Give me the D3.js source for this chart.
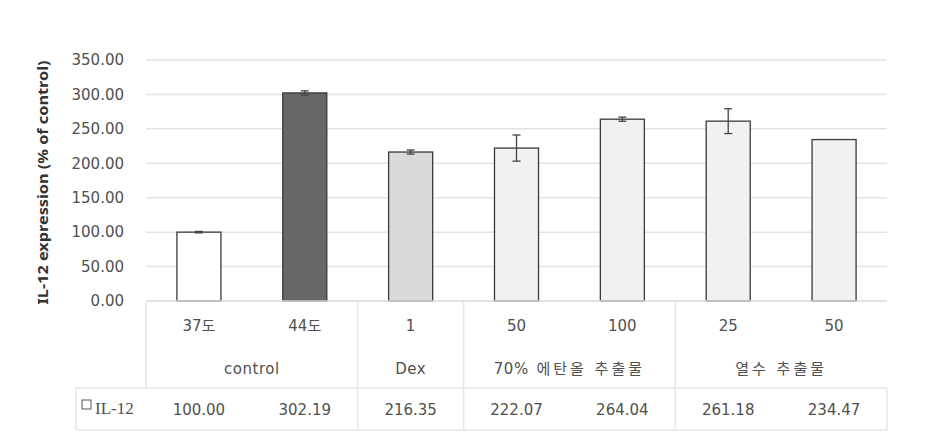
<!DOCTYPE html>
<html>
<head>
<meta charset="utf-8">
<script src="https://cdn.jsdelivr.net/npm/d3@7"></script>
<style>
  body { margin: 0; background: #fff; }
  svg { display: block; font-family: "DejaVu Sans", "Noto Sans CJK KR", sans-serif; }
</style>
</head>
<body>
<svg id="chart" width="926" height="447"></svg>
<script>
// data
const categories = ["37도", "44도", "1", "50", "100", "25", "50"];
const groups = [
    { name: "control", from: 0, to: 1 },
    { name: "Dex", from: 2, to: 2 },
    { name: "70% 에탄올 추출물", from: 3, to: 4 },
    { name: "열수 추출물", from: 5, to: 6 }
];
const values = [100.00, 302.19, 216.35, 222.07, 264.04, 261.18, 234.47];
const errors = [1, 3, 3, 19, 3, 18, 0];
const fills = ["#ffffff", "#676767", "#dadada", "#f1f1f1", "#f1f1f1", "#f1f1f1", "#f1f1f1"];
const yTicks = [0, 50, 100, 150, 200, 250, 300, 350];
const seriesName = "IL-12";

const svg = d3.select("#chart");

const plot = { left: 146, right: 887, top: 60, bottom: 301 };
const textColor = "#505050";
// split a label in runs of hangul / other, so only hangul gets extra spacing
const runs = s => s.match(/[\uac00-\ud7a3 ]+|[^\uac00-\ud7a3 ]+/g);
const isHangul = s => /[\uac00-\ud7a3]/.test(s);

const x = d3.scaleBand()
    .domain(d3.range(categories.length))
    .range([plot.left, plot.right])
    .paddingInner(0.584)
    .paddingOuter(0.292);

const y = d3.scaleLinear()
    .domain([0, 350])
    .range([plot.bottom, plot.top]);

const step = x.step();
const colLeft = i => plot.left + i * step;

// gridlines
svg.append("g")
    .selectAll("line")
    .data(yTicks.filter(t => t > 0))
    .enter()
    .append("line")
    .attr("x1", plot.left)
    .attr("x2", plot.right)
    .attr("y1", d => y(d))
    .attr("y2", d => y(d))
    .style("stroke", "#e3e3e3")
    .style("stroke-width", 1.5);

// y axis labels
const yAxis = d3.axisLeft(y)
    .tickValues(yTicks)
    .tickSize(0)
    .tickPadding(0)
    .tickFormat(d3.format(".2f"));

const gy = svg.append("g")
    .attr("transform", "translate(124,0)")
    .call(yAxis);
gy.select(".domain").remove();
gy.selectAll("text")
    .style("font-size", "15px")
    .style("fill", textColor)
    .style("font-family", "'DejaVu Sans', sans-serif");

// y axis title
svg.append("text")
    .attr("transform", `translate(43,${(plot.top + plot.bottom) / 2 + 2}) rotate(-90)`)
    .attr("text-anchor", "middle")
    .attr("dy", "0.35em")
    .attr("textLength", 244)
    .attr("lengthAdjust", "spacingAndGlyphs")
    .style("font-size", "15px")
    .style("font-weight", "bold")
    .style("fill", "#333")
    .style("font-family", "'Noto Sans', sans-serif")
    .text("IL-12 expression (% of control)");

// bars
svg.append("g")
    .selectAll("rect")
    .data(values)
    .enter()
    .append("rect")
    .attr("x", (d, i) => x(i))
    .attr("y", d => y(d))
    .attr("width", x.bandwidth())
    .attr("height", d => y(0) - y(d))
    .style("fill", (d, i) => fills[i])
    .style("stroke", "#3a3a3a")
    .style("stroke-width", 1.3);

// error bars
const eb = svg.append("g")
    .selectAll("g")
    .data(values.map((v, i) => ({ v: v, e: errors[i], i: i })).filter(d => d.e > 0))
    .enter()
    .append("g")
    .style("stroke", "#444")
    .style("stroke-width", 1.3);

eb.append("line")
    .attr("x1", d => x(d.i) + x.bandwidth() / 2)
    .attr("x2", d => x(d.i) + x.bandwidth() / 2)
    .attr("y1", d => y(d.v + d.e))
    .attr("y2", d => y(d.v - d.e));

[1, -1].forEach(s => {
    eb.append("line")
        .attr("x1", d => x(d.i) + x.bandwidth() / 2 - 4)
        .attr("x2", d => x(d.i) + x.bandwidth() / 2 + 4)
        .attr("y1", d => y(d.v + s * d.e))
        .attr("y2", d => y(d.v + s * d.e));
});

// baseline
svg.append("line")
    .attr("x1", plot.left)
    .attr("x2", plot.right)
    .attr("y1", y(0))
    .attr("y2", y(0))
    .style("stroke", "#d9d9d9")
    .style("stroke-width", 1.5);

// data table lines
const table = svg.append("g").style("stroke", "#e6e6e6").style("stroke-width", 1.5);
table.append("line")
    .attr("x1", plot.left).attr("x2", plot.left)
    .attr("y1", plot.bottom).attr("y2", 388);
table.selectAll(".sep")
    .data(groups.slice(1))
    .enter()
    .append("line")
    .attr("class", "sep")
    .attr("x1", d => colLeft(d.from))
    .attr("x2", d => colLeft(d.from))
    .attr("y1", plot.bottom)
    .attr("y2", 430);
table.append("line")
    .attr("x1", 76).attr("x2", plot.right)
    .attr("y1", 388).attr("y2", 388);
table.append("line")
    .attr("x1", 76).attr("x2", plot.right)
    .attr("y1", 430).attr("y2", 430);
table.append("line")
    .attr("x1", 76).attr("x2", 76)
    .attr("y1", 388).attr("y2", 430);
table.append("line")
    .attr("x1", plot.right).attr("x2", plot.right)
    .attr("y1", 388).attr("y2", 430);

// category labels
svg.append("g")
    .selectAll("text")
    .data(categories)
    .enter()
    .append("text")
    .attr("x", (d, i) => x(i) + x.bandwidth() / 2)
    .attr("y", 331)
    .attr("text-anchor", "middle")
    .style("font-size", "15px")
    .style("fill", textColor)
    .text(d => d);

// group labels
const gl = svg.append("g")
    .selectAll("text")
    .data(groups)
    .enter()
    .append("text")
    .attr("x", d => (colLeft(d.from) + colLeft(d.to + 1)) / 2)
    .attr("y", 374)
    .attr("text-anchor", "middle")
    .style("font-size", "15px")
    .style("fill", textColor);

gl.selectAll("tspan")
    .data(d => runs(d.name))
    .enter()
    .append("tspan")
    .style("letter-spacing", d => isHangul(d) ? "3px" : "0.5px")
    .text(d => d);

// table values
svg.append("g")
    .selectAll("text")
    .data(values)
    .enter()
    .append("text")
    .attr("x", (d, i) => x(i) + x.bandwidth() / 2)
    .attr("y", 415)
    .attr("text-anchor", "middle")
    .style("font-size", "15px")
    .style("fill", textColor)
    .text(d => d3.format(".2f")(d));

// legend key
svg.append("rect")
    .attr("x", 82)
    .attr("y", 400)
    .attr("width", 9)
    .attr("height", 9)
    .style("fill", "#fff")
    .style("stroke", "#555")
    .style("stroke-width", 1);
svg.append("text")
    .attr("x", 95)
    .attr("y", 414)
    .style("font-size", "17px")
    .style("fill", textColor)
    .style("font-family", "'Liberation Serif', serif")
    .text(seriesName);
</script>
</body>
</html>
